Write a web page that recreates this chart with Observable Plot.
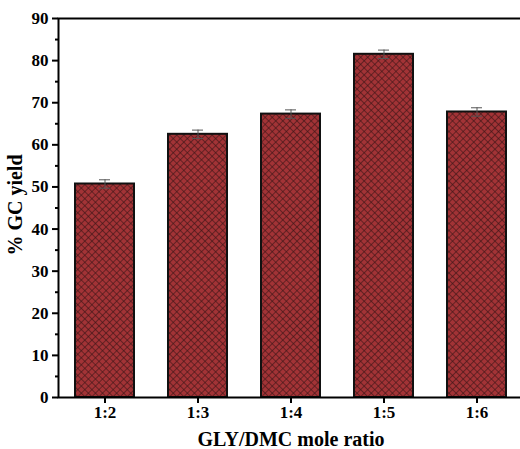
<!DOCTYPE html>
<html>
<head>
<meta charset="utf-8">
<script src="https://cdn.jsdelivr.net/npm/d3@7"></script>
<script src="https://cdn.jsdelivr.net/npm/@observablehq/plot@0.6"></script>
<style>
  html, body { margin: 0; padding: 0; background: #fff; overflow: hidden; width: 520px; height: 449px; }
  #chart svg { display: block; max-width: none !important; }
</style>
</head>
<body>
<div id="chart"></div>
<script>
const ratios = ["1:2", "1:3", "1:4", "1:5", "1:6"];
const yields = [50.7, 62.5, 67.3, 81.5, 67.8];
const errors = [1.0, 1.0, 1.0, 1.0, 1.0];
const majorTicks = [0, 10, 20, 30, 40, 50, 60, 70, 80, 90];
const minorTicks = [5, 15, 25, 35, 45, 55, 65, 75, 85];

const data = ratios.map((r, i) => ({ratio: r, y: yields[i], lo: yields[i] - errors[i], hi: yields[i] + errors[i]}));

const font = "'Liberation Serif', 'Times New Roman', serif";

const plot = Plot.plot({
  width: 528,
  height: 449,
  marginLeft: 58,
  marginRight: 4,
  marginTop: 18,
  marginBottom: 52,
  style: {fontFamily: font, fontWeight: "bold", fontSize: "16px", color: "#000", background: "#fff"},
  x: {domain: ratios, paddingInner: 0.365, paddingOuter: 0.1825, label: null},
  y: {domain: [0, 90], label: null},
  marks: [
    Plot.barY(data, {x: "ratio", y: "y", fill: "url(#xhatch)", stroke: "#111", strokeWidth: 2}),
    Plot.ruleX(data, {x: "ratio", y1: "lo", y2: "hi", stroke: "#555", strokeWidth: 1}),
    Plot.tickY(data, {x: "ratio", y: "hi", stroke: "#555", strokeWidth: 1, insetLeft: 24, insetRight: 24}),
    Plot.tickY(data, {x: "ratio", y: "lo", stroke: "#555", strokeWidth: 1, insetLeft: 24, insetRight: 24}),
    Plot.axisY({ticks: majorTicks, tickSize: 6, text: null, strokeWidth: 2, label: null}),
    Plot.axisY({ticks: minorTicks, tickSize: 3, text: null, strokeWidth: 2, label: null}),
    Plot.axisX({tickSize: 6, text: null, strokeWidth: 2, label: null}),
    Plot.text(majorTicks, {y: d => d, text: d => String(d), frameAnchor: "left", dx: -10, textAnchor: "end",
      fontSize: 17, fontFamily: font, fontWeight: "bold", fill: "#000"}),
    Plot.text(ratios, {x: d => d, text: d => d, frameAnchor: "bottom", dy: 20,
      fontSize: 17, fontFamily: font, fontWeight: "bold", fill: "#000"}),
    Plot.frame({stroke: "#000", strokeWidth: 2})
  ]
});

// define crosshatch pattern
const ns = "http://www.w3.org/2000/svg";
const defs = document.createElementNS(ns, "defs");
const pat = document.createElementNS(ns, "pattern");
pat.setAttribute("id", "xhatch");
pat.setAttribute("patternUnits", "userSpaceOnUse");
pat.setAttribute("width", "5");
pat.setAttribute("height", "5");
pat.setAttribute("patternTransform", "rotate(45)");
const bg = document.createElementNS(ns, "rect");
bg.setAttribute("width", "5"); bg.setAttribute("height", "5"); bg.setAttribute("fill", "#a23336");
pat.appendChild(bg);
const l1 = document.createElementNS(ns, "line");
l1.setAttribute("x1", "0"); l1.setAttribute("y1", "0"); l1.setAttribute("x2", "5"); l1.setAttribute("y2", "0");
l1.setAttribute("stroke", "#3a1416"); l1.setAttribute("stroke-width", "1.2");
const l2 = document.createElementNS(ns, "line");
l2.setAttribute("x1", "0"); l2.setAttribute("y1", "0"); l2.setAttribute("x2", "0"); l2.setAttribute("y2", "5");
l2.setAttribute("stroke", "#3a1416"); l2.setAttribute("stroke-width", "1.2");
pat.appendChild(l1); pat.appendChild(l2);
defs.appendChild(pat);
plot.insertBefore(defs, plot.firstChild);

// axis labels
function addLabel(txt, attrs) {
  const t = document.createElementNS(ns, "text");
  for (const k in attrs) t.setAttribute(k, attrs[k]);
  t.setAttribute("text-anchor", "middle");
  t.setAttribute("font-family", font);
  t.setAttribute("font-size", "20");
  t.setAttribute("font-weight", "bold");
  t.setAttribute("fill", "#000");
  t.textContent = txt;
  plot.appendChild(t);
}
addLabel("GLY/DMC mole ratio", {x: 291, y: 446});
addLabel("% GC yield", {transform: "translate(22,205) rotate(-90)"});

document.getElementById("chart").appendChild(plot);
</script>
</body>
</html>
